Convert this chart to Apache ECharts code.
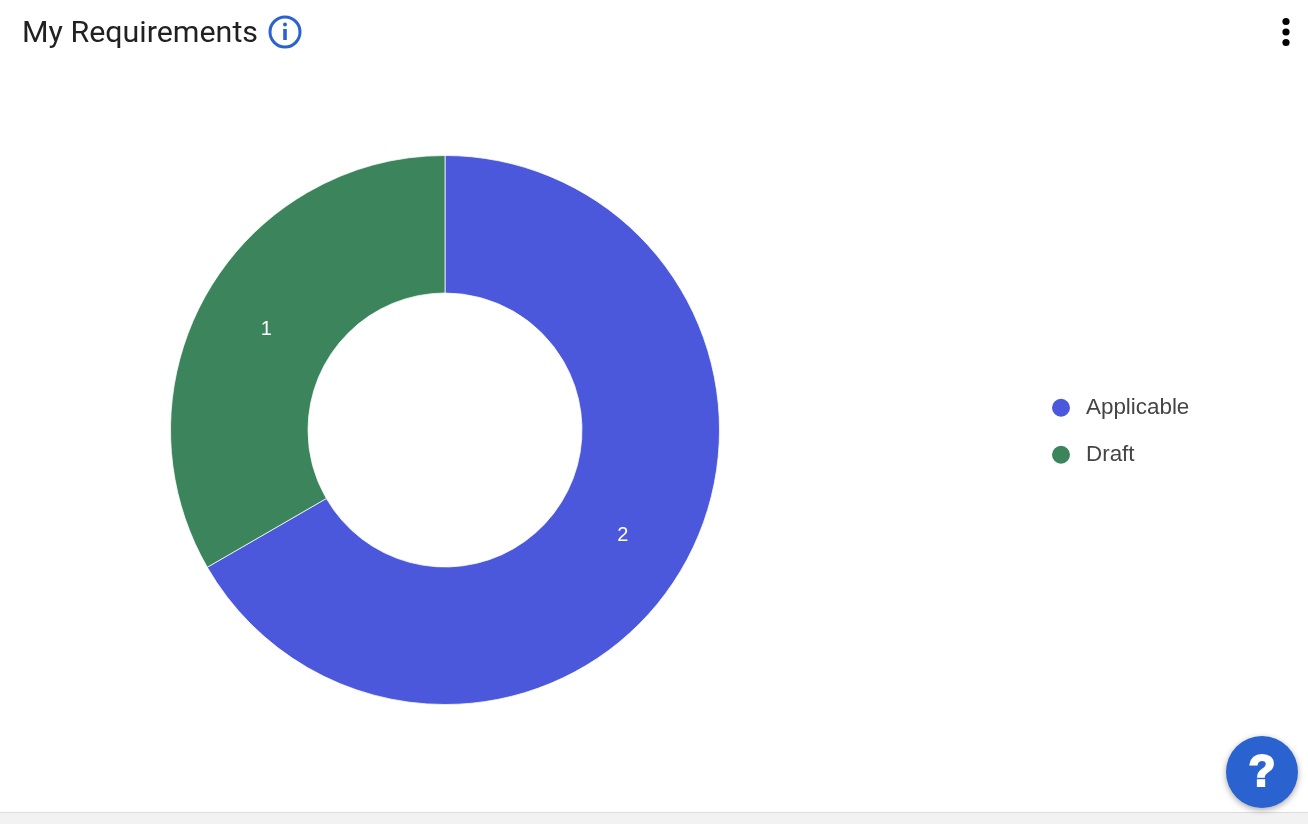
<!DOCTYPE html>
<html><head><meta charset="utf-8">
<style>html,body{margin:0;padding:0;background:#fff}#c{width:1308px;height:824px}</style>
<script src="https://cdn.jsdelivr.net/npm/echarts@6/dist/echarts.min.js"></script>
</head><body><div id="c"></div>
<script>
const titleText = 'My Requirements';
const categories = ['Applicable', 'Draft'];
const values = [2, 1];
const colors = ['#4b58dc', '#3c855c'];
const labelOffsets = [[-3, 1], [2, 4]];
const chart = echarts.init(document.getElementById('c'), null, {renderer:'canvas'});
chart.setOption({
  animation:false,
  title:{text:titleText,left:17,top:14,textStyle:{fontFamily:'Roboto',fontSize:30.4,fontWeight:400,color:'#212121'}},
  legend:{orient:'vertical',left:1045,top:391.75,data:categories,icon:'circle',itemWidth:20,itemHeight:20,itemGap:25,selectedMode:false,
    textStyle:{fontFamily:'Liberation Sans',fontSize:22.4,color:'#444',padding:[0,0,0,10]}},
  series:[{type:'pie',center:[445,430],radius:[137,274.5],startAngle:90,clockwise:true,
    data:categories.map((n,i)=>({name:n,value:values[i],itemStyle:{color:colors[i]},label:{offset:labelOffsets[i]}})),
    label:{position:'inside',formatter:'{c}',color:'#fff',fontFamily:'Liberation Sans',fontSize:20},
    labelLine:{show:false},itemStyle:{borderColor:'#fff',borderWidth:0.75},emphasis:{disabled:true}}],
  graphic:[
    {type:'rect',shape:{x:0,y:812,width:1308,height:12},style:{fill:'#f2f2f2'}},
    {type:'rect',shape:{x:0,y:812,width:1308,height:1},style:{fill:'#dcdcdc'}},
    {type:'circle',shape:{cx:285,cy:32,r:15},style:{fill:'#fff',stroke:'#2a63cf',lineWidth:3}},
    {type:'circle',shape:{cx:285,cy:24.5,r:2},style:{fill:'#2a63cf'}},
    {type:'rect',shape:{x:283.2,y:29,width:3.6,height:11},style:{fill:'#2a63cf'}},
    {type:'circle',shape:{cx:1286,cy:21.5,r:3.6},style:{fill:'#000'}},
    {type:'circle',shape:{cx:1286,cy:32,r:3.6},style:{fill:'#000'}},
    {type:'circle',shape:{cx:1286,cy:42.5,r:3.6},style:{fill:'#000'}},
    {type:'circle',shape:{cx:1262,cy:772,r:36},style:{fill:'#2a63cf',shadowBlur:6,shadowColor:'rgba(0,0,0,0.35)',shadowOffsetY:2}},
    {type:'text',style:{x:1262,y:774,text:'?',align:'center',verticalAlign:'middle',fill:'#fff',font:'bold 44px "Liberation Sans"',stroke:'#fff',lineWidth:2}}
  ]
});
</script></body></html>
